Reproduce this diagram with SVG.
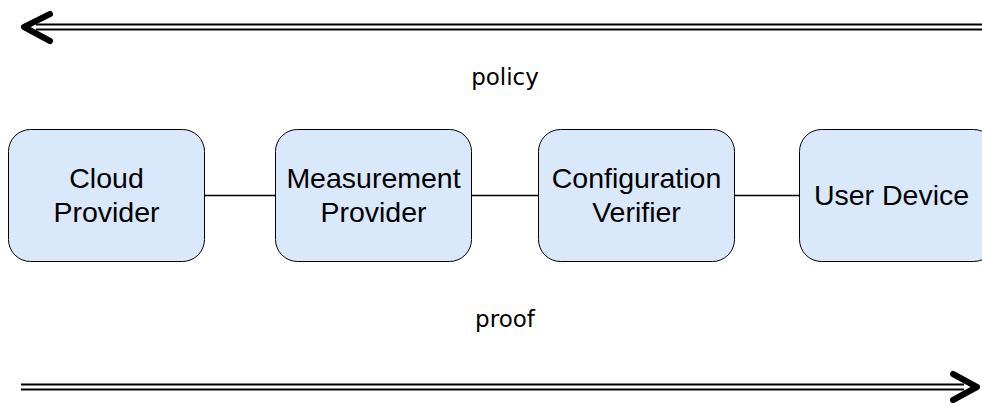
<svg xmlns="http://www.w3.org/2000/svg" width="982" height="403" viewBox="0 0 982 403">
<style>
.node rect{fill:#dae8fc;stroke:#000;stroke-width:1}
.node text{font-family:"Liberation Sans",Arial,sans-serif;font-size:28.5px;fill:#000;text-anchor:middle}
.lbl{font-family:"DejaVu Sans","Open Sans",sans-serif;font-size:23px;fill:#000;text-anchor:middle}
.edge{stroke:#000;stroke-width:1.5;fill:none}
.rail{stroke:#000;stroke-width:2;fill:none}
.head{stroke:#000;stroke-width:6;fill:none;stroke-linecap:round;stroke-linejoin:round}
</style>
<rect width="982" height="403" fill="#fff"/>
<g id="connectors">
<line class="edge" x1="205" y1="195.5" x2="275" y2="195.5"/>
<line class="edge" x1="471" y1="195.5" x2="538" y2="195.5"/>
<line class="edge" x1="734" y1="195.5" x2="799" y2="195.5"/>
<line class="rail" x1="36" y1="24.5" x2="982" y2="24.5"/>
<line class="rail" x1="36" y1="29.5" x2="982" y2="29.5"/>
<polyline class="head" points="50,14 24,27 50,41"/>
<line class="rail" x1="21" y1="384.5" x2="964" y2="384.5"/>
<line class="rail" x1="21" y1="389.5" x2="964" y2="389.5"/>
<polyline class="head" points="953,374 977,387 953,400"/>
</g>
<g id="label-policy"><text class="lbl" x="505" y="85">policy</text></g>
<g id="label-proof"><text class="lbl" x="505" y="327">proof</text></g>
<g id="cloud-provider" class="node">
<rect x="8.5" y="129.5" width="196" height="132" rx="22"/>
<text x="106.5" y="188">Cloud</text>
<text x="106.5" y="222">Provider</text>
</g>
<g id="measurement-provider" class="node">
<rect x="275.5" y="129.5" width="196" height="132" rx="22"/>
<text x="373.5" y="188">Measurement</text>
<text x="373.5" y="222">Provider</text>
</g>
<g id="configuration-verifier" class="node">
<rect x="538.5" y="129.5" width="196" height="132" rx="22"/>
<text x="636.5" y="188">Configuration</text>
<text x="636.5" y="222">Verifier</text>
</g>
<g id="user-device" class="node">
<rect x="799.5" y="129.5" width="196" height="132" rx="22"/>
<text x="891.5" y="205">User Device</text>
</g>
</svg>
